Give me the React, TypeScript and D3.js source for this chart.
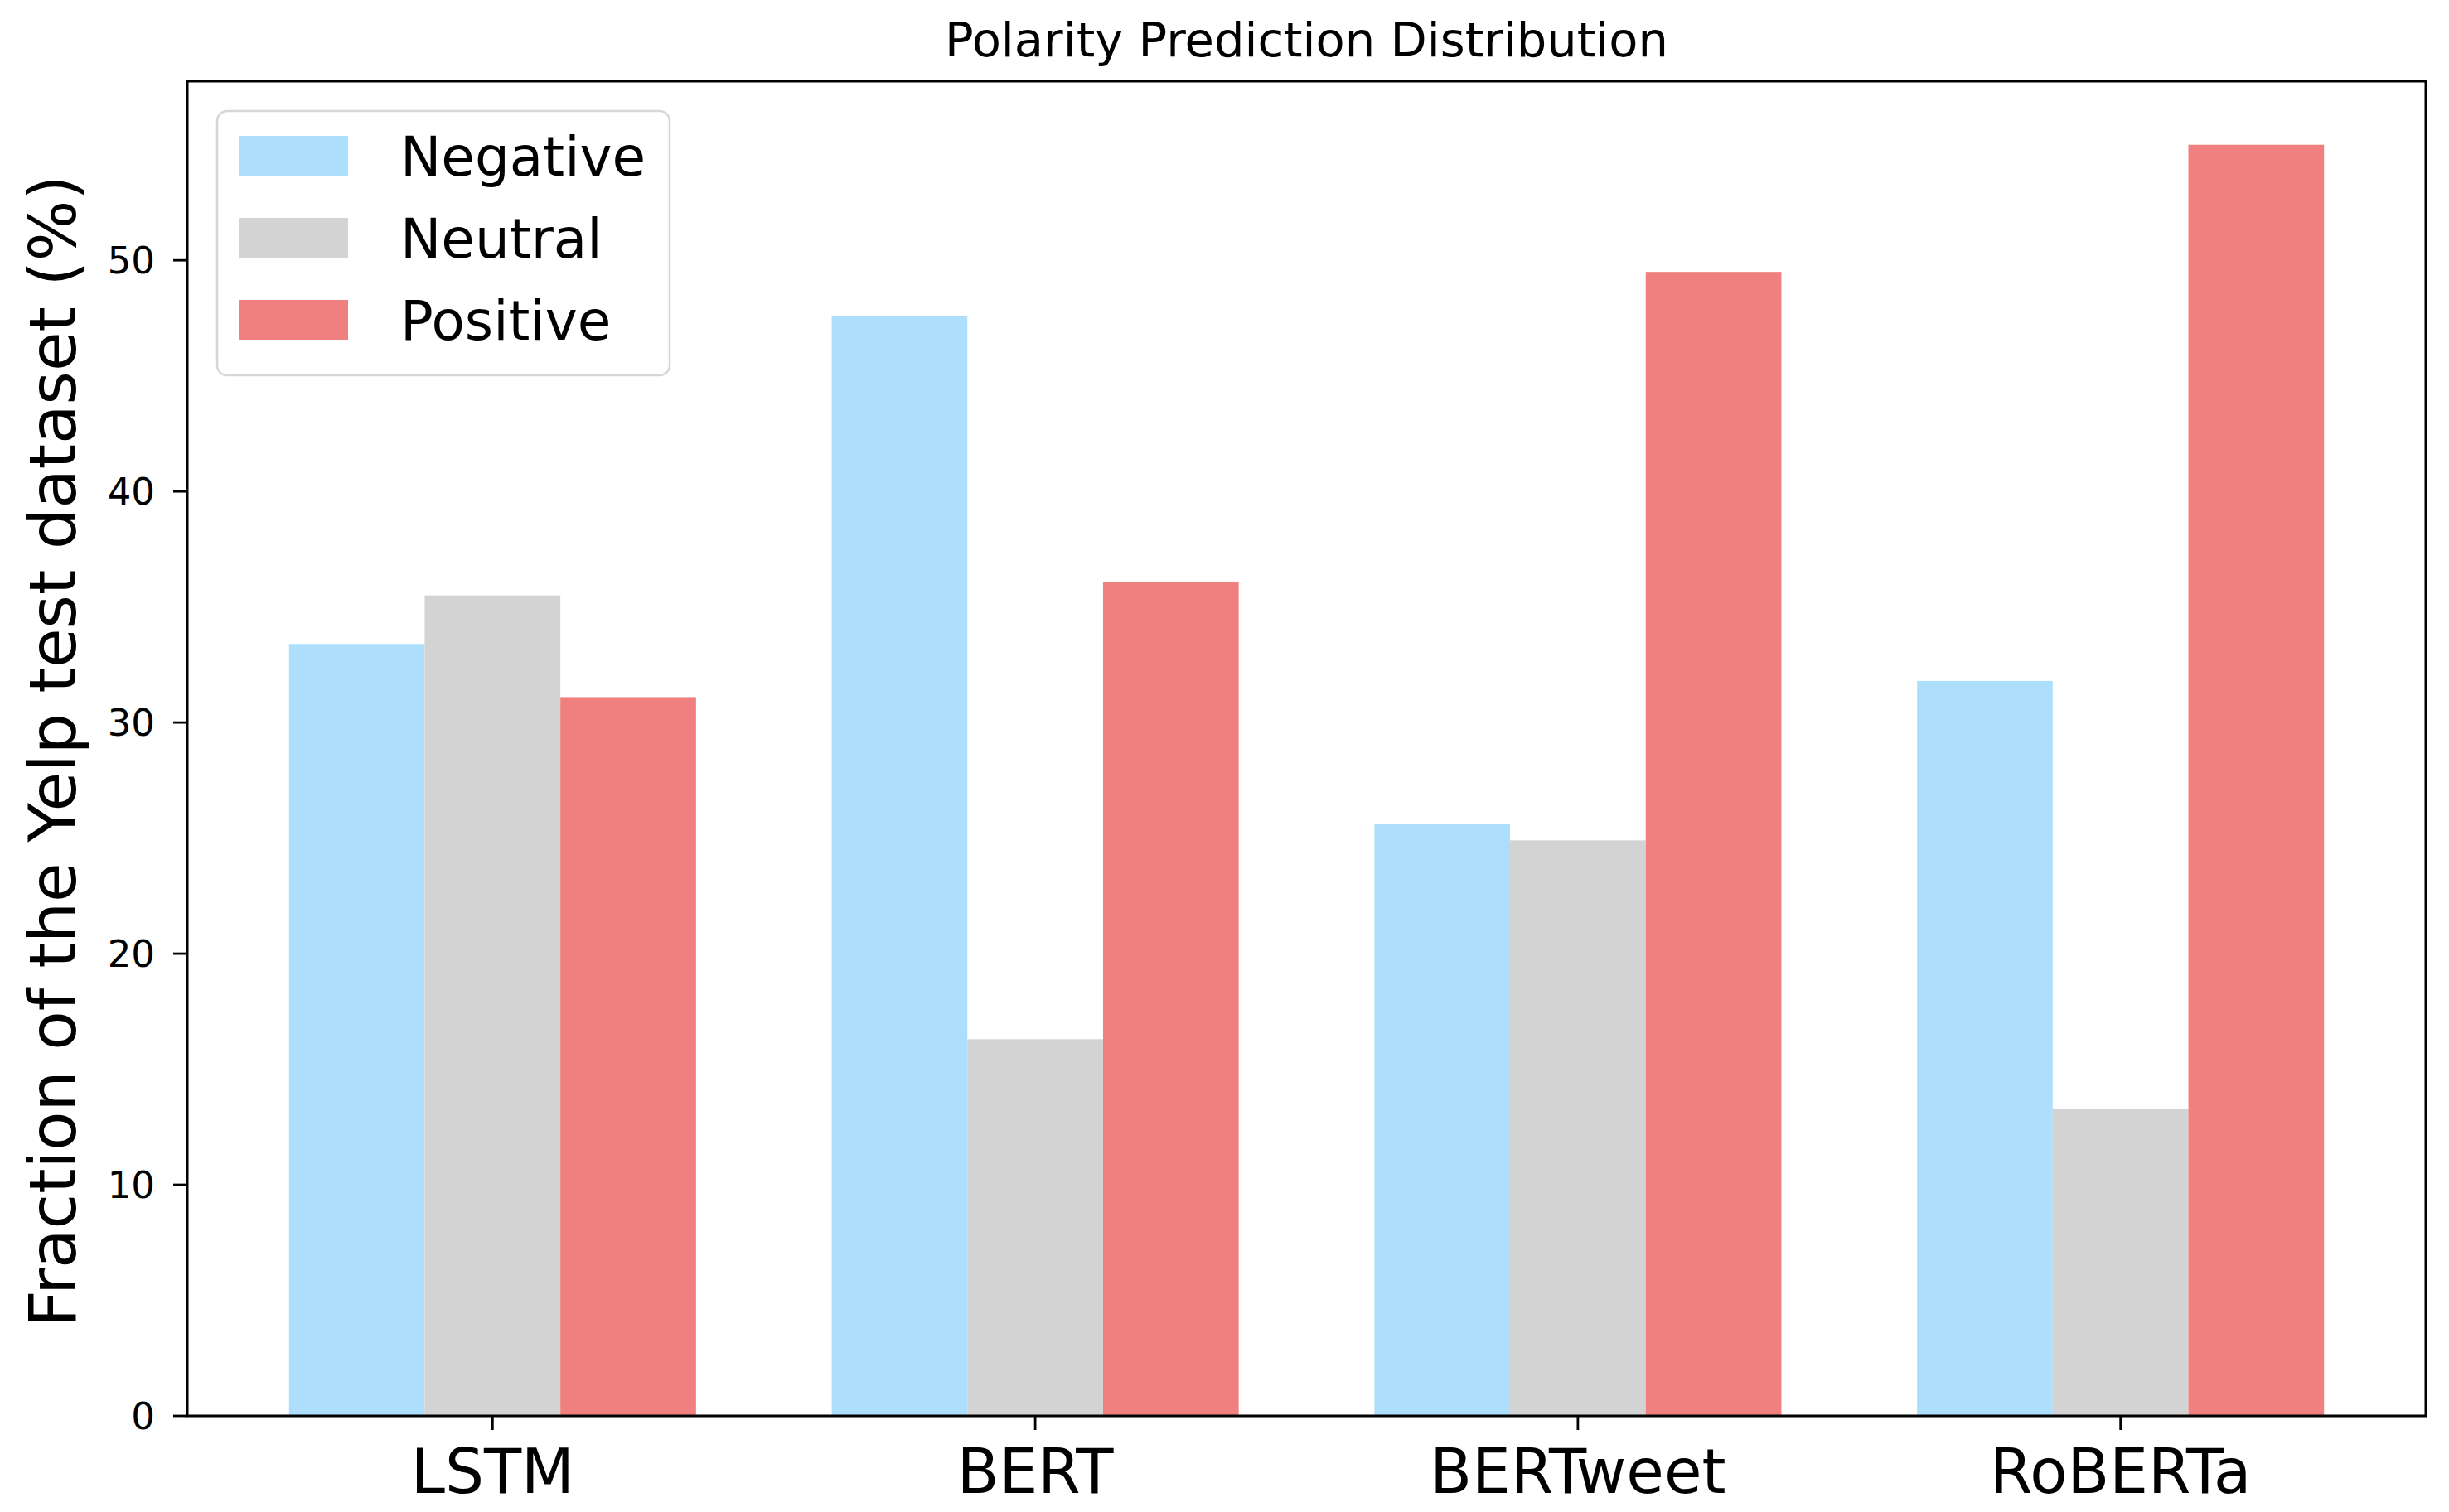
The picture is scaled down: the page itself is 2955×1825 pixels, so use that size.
import React from "react";
import * as d3 from "d3";

const models = ["LSTM", "BERT", "BERTweet", "RoBERTa"];
const seriesNames = ["Negative", "Neutral", "Positive"];
const negative = [33.4, 47.6, 25.6, 31.8];
const neutral = [35.5, 16.3, 24.9, 13.3];
const positive = [31.1, 36.1, 49.5, 55.0];
const seriesColors = ["#ADDFFC", "#D3D3D3", "#F08080"];
const yTicks = [0, 10, 20, 30, 40, 50];
const title = "Polarity Prediction Distribution";
const yLabel = "Fraction of the Yelp test dataset (%)";

const W = 2955;
const H = 1825;
const FONT = "DejaVu Sans, sans-serif";

export default function App() {
  const series = [negative, neutral, positive];
  const left = 226;
  const right = 2927;
  const top = 98;
  const bottom = 1709;
  const barW = 0.25;

  const x = d3
    .scaleLinear()
    .domain([-0.5625, models.length - 1 + 0.5625])
    .range([left, right]);
  const ymax = (d3.max(series.flat()) as number) * 1.05;
  const y = d3.scaleLinear().domain([0, ymax]).range([bottom, top]);

  const legendX = 262;
  const legendY = 134;
  const legendW = 546;
  const legendH = 319;

  return (
    <svg
      width={W}
      height={H}
      viewBox={`0 0 ${W} ${H}`}
      style={{ position: "absolute", left: 0, top: 0, background: "#fff" }}
      fontFamily={FONT}
    >
      <rect x={0} y={0} width={W} height={H} fill="#fff" />
      {/* bars */}
      {series.map((vals, j) =>
        vals.map((v, i) => {
          const cx = i + (j - 1) * barW;
          const x0 = x(cx - barW / 2);
          const x1 = x(cx + barW / 2);
          return (
            <rect
              key={`${j}-${i}`}
              x={x0}
              y={y(v)}
              width={x1 - x0}
              height={y(0) - y(v)}
              fill={seriesColors[j]}
            />
          );
        })
      )}
      {/* spines */}
      <rect
        x={left}
        y={top}
        width={right - left}
        height={bottom - top}
        fill="none"
        stroke="#000"
        strokeWidth={3}
      />
      {/* y ticks */}
      {yTicks.map((t) => (
        <g key={t}>
          <line x1={left - 17} x2={left} y1={y(t)} y2={y(t)} stroke="#000" strokeWidth={2.8} />
          <text
            x={187}
            y={y(t)}
            textAnchor="end"
            dominantBaseline="central"
            fontSize={45}
            fill="#000"
          >
            {t}
          </text>
        </g>
      ))}
      {/* x ticks */}
      {models.map((m, i) => (
        <g key={m}>
          <line x1={x(i)} x2={x(i)} y1={bottom} y2={bottom + 17} stroke="#000" strokeWidth={2.8} />
          <text x={x(i)} y={1802} textAnchor="middle" fontSize={74} fill="#000">
            {m}
          </text>
        </g>
      ))}
      {/* y label */}
      <text
        transform={`translate(91, ${(top + bottom) / 2 + 3}) rotate(-90)`}
        textAnchor="middle"
        fontSize={77.5}
        fill="#000"
      >
        {yLabel}
      </text>
      {/* title */}
      <text x={(left + right) / 2} y={68} textAnchor="middle" fontSize={57.5} fill="#000">
        {title}
      </text>
      {/* legend */}
      <rect
        x={legendX}
        y={legendY}
        width={legendW}
        height={legendH}
        rx={12}
        ry={12}
        fill="#fff"
        fillOpacity={0.8}
        stroke="#d6d6d6"
        strokeWidth={2.5}
      />
      {seriesNames.map((name, j) => {
        const baseY = 212 + j * 99;
        return (
          <g key={name}>
            <rect x={288} y={baseY - 48} width={132} height={48} fill={seriesColors[j]} />
            <text x={483} y={baseY} fontSize={66} fill="#000">
              {name}
            </text>
          </g>
        );
      })}
    </svg>
  );
}
